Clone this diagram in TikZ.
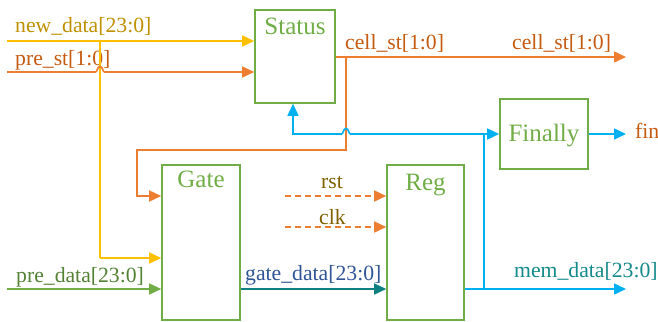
\documentclass[tikz,border=0pt]{standalone}
\usepackage{fontspec}
\setmainfont{Liberation Serif}
\usetikzlibrary{arrows.meta}
\definecolor{cyel}{HTML}{FFC000}
\definecolor{corg}{HTML}{ED7D31}
\definecolor{cgrn}{HTML}{70AD47}
\definecolor{cblu}{HTML}{00B0F0}
\definecolor{cteal}{HTML}{0E8080}
\definecolor{tyel}{HTML}{BF9000}
\definecolor{torg}{HTML}{C55A11}
\definecolor{tbrn}{HTML}{7F6000}
\definecolor{tgrn}{HTML}{548235}
\definecolor{tblu}{HTML}{2F5597}
\definecolor{tteal}{HTML}{14898A}
\begin{document}
\begin{tikzpicture}[x=1pt,y=-1pt,
  blk/.style={draw=cgrn,line width=1.6pt,inner sep=0pt},
  blklbl/.style={text=cgrn,font=\fontsize{25}{28}\selectfont,anchor=base,inner sep=0pt},
  sig/.style={font=\fontsize{21.7}{24}\selectfont,anchor=base west,inner sep=0pt},
  wire/.style={line width=1.6pt},
  tip/.style={-{Triangle[length=12pt,width=11pt]}},
]
\useasboundingbox (0,0) rectangle (658,321);
% blocks
\node[blk,minimum width=80pt,minimum height=93pt] (status) at (295,56.5) {};
\node[blk,minimum width=78pt,minimum height=155pt] (gate) at (201,242.5) {};
\node[blk,minimum width=77pt,minimum height=155pt] (reg) at (425.5,242.5) {};
\node[blk,minimum width=88pt,minimum height=70pt] (fin) at (544,134) {};
\node[blklbl] (statusT) at (295,35) {Status};
\node[blklbl] (gateT) at (201,187.5) {Gate};
\node[blklbl] (regT) at (425.5,190) {Reg};
\node[blklbl] (finT) at (544,141) {Finally};
% labels
\node[sig,text=tyel] (l1) at (15,33) {new\_data[23:0]};
\node[sig,text=torg] (l2) at (15,65) {pre\_st[1:0]};
\node[sig,text=torg] (l3) at (345,50) {cell\_st[1:0]};
\node[sig,text=torg] (l4) at (512,50) {cell\_st[1:0]};
\node[sig,text=torg] (l5) at (635,138) {fin};
\node[sig,text=tbrn] (l6) at (321,188) {rst};
\node[sig,text=tbrn] (l7) at (319,224) {clk};
\node[sig,text=tgrn] (l8) at (16,282) {pre\_data[23:0]};
\node[sig,text=tblu] (l9) at (245,280) {gate\_data[23:0]};
\node[sig,text=tteal] (l10) at (514,277) {mem\_data[23:0]};
% coordinates
\coordinate (ndin) at (7,41);
\coordinate (psin) at (7,72);
\coordinate (pdin) at (7,289);
\coordinate (yv) at (100,41);
\coordinate (yb) at (100,258);
\coordinate (cs1) at (346,57);
\coordinate (csout) at (626,57);
\coordinate (ob1) at (346,150);
\coordinate (ob2) at (137,150);
\coordinate (ob3) at (137,196);
\coordinate (bv) at (484,289);
\coordinate (bt) at (484,134);
\coordinate (bl) at (293,134);
\coordinate (memout) at (626,289);
\coordinate (finout) at (626,134);
\coordinate (rstin) at (285,196);
\coordinate (clkin) at (285,227);
% yellow
\draw[wire,cyel,tip] (ndin) -- (ndin -| status.west);
\draw[wire,cyel] (yv) -- (yb);
\draw[wire,cyel,tip] (yb) -- (yb -| gate.west);
% orange pre_st with jump
\draw[wire,corg,tip] (psin) -- (95.5,72) .. controls (97.5,72) and (97,66.5) .. (100,66.5) .. controls (103,66.5) and (102.5,72) .. (104.5,72) -- (psin -| status.west);
% cell_st
\draw[wire,corg,tip] (cs1 -| status.east) -- (csout);
\draw[wire,corg,tip] (cs1) -- (ob1) -- (ob2) -- (ob3) -- (ob3 -| gate.west);
% blue
\draw[wire,cblu,tip] (reg.east |- bv) -- (memout);
\draw[wire,cblu] (bv) -- (bt);
\draw[wire,cblu,tip] (bt) -- (fin.west);
\draw[wire,cblu,tip] (fin.east) -- (finout);
\draw[wire,cblu,tip] (bt) -- (350.5,134) .. controls (348.5,134) and (349,128.5) .. (346,128.5) .. controls (343,128.5) and (343.5,134) .. (341.5,134) -- (bl) -- (bl |- status.south);
% rst clk
\draw[wire,corg,tip,dash pattern=on 6pt off 4pt] (rstin) -- (rstin -| reg.west);
\draw[wire,corg,tip,dash pattern=on 6pt off 4pt] (clkin) -- (clkin -| reg.west);
% pre_data / gate_data
\draw[wire,cgrn,tip] (pdin) -- (pdin -| gate.west);
\draw[wire,cteal,tip] (gate.east |- pdin) -- (pdin -| reg.west);
\end{tikzpicture}
\end{document}
